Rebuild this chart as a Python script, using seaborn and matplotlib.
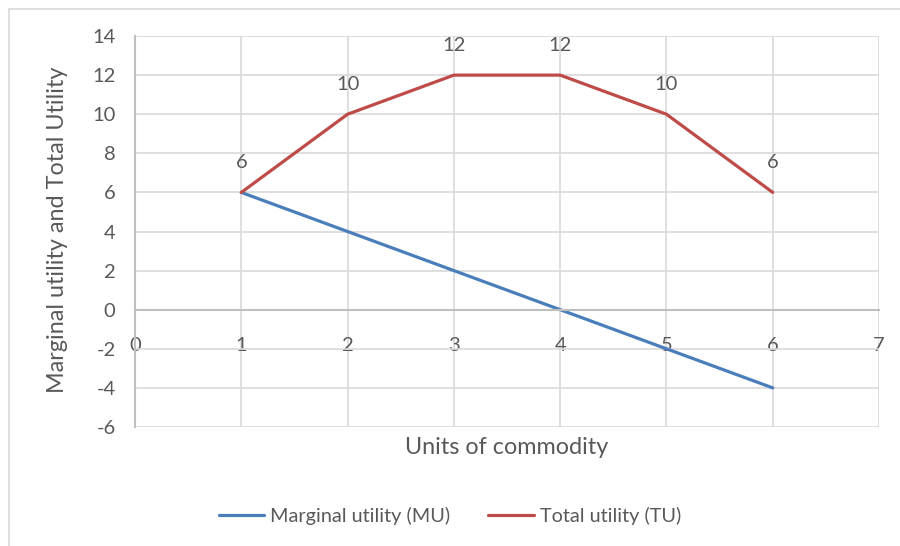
import numpy as np
import pandas as pd
import matplotlib.pyplot as plt
import seaborn as sns
from matplotlib.patches import Rectangle

# data
units = [1, 2, 3, 4, 5, 6]
mu = [6, 4, 2, 0, -2, -4]
tu = [6, 10, 12, 12, 10, 6]
series_names = ['Marginal utility (MU)', 'Total utility (TU)']
x_ticks = [0, 1, 2, 3, 4, 5, 6, 7]
y_ticks = [-6, -4, -2, 0, 2, 4, 6, 8, 10, 12, 14]

df = pd.DataFrame({
    'Units': units * 2,
    'Value': mu + tu,
    'Series': [series_names[0]] * len(units) + [series_names[1]] * len(units),
})

sns.set_style('white')
plt.rcParams['font.family'] = ['Lato', 'DejaVu Sans']
plt.rcParams['axes.unicode_minus'] = False
txt = '#595959'
colors = ['#4A7EBB', '#BE4B48']

fig = plt.figure(figsize=(9, 5.46), dpi=100)
ax = fig.add_axes([0.15, 0.218, 0.8267, 0.716])

sns.lineplot(data=df, x='Units', y='Value', hue='Series',
             palette=colors, linewidth=2.3, ax=ax, legend=False)

ax.set_xlim(0, 7)
ax.set_ylim(-6, 14)
ax.set_xticks(x_ticks)
ax.set_yticks(y_ticks)
ax.grid(True, color='#D9D9D9', linewidth=1.2)
ax.set_axisbelow(True)

for s in ['top', 'right']:
    ax.spines[s].set_visible(False)
ax.spines['bottom'].set_position(('data', 0))
ax.spines['bottom'].set_color('#BFBFBF')
ax.spines['bottom'].set_linewidth(1.5)
ax.spines['left'].set_color('#BFBFBF')
ax.spines['left'].set_linewidth(1.5)

ax.tick_params(axis='x', length=0, pad=20, labelsize=14.5, labelcolor=txt)
ax.tick_params(axis='y', length=0, pad=14, labelsize=14.5, labelcolor=txt)

ax.set_xlabel('Units of commodity', fontsize=16.8, color=txt)
ax.xaxis.set_label_coords(0.5, -0.025)
ax.set_ylabel('Marginal utility and Total Utility', fontsize=16.8, color=txt)
ax.yaxis.set_label_coords(-0.09, 0.504)

for x, v in zip(units, tu):
    ax.annotate(str(v), (x, v), xytext=(0, 21.5), textcoords='offset points',
                ha='center', va='center', fontsize=14.5, color=txt)

handles = [plt.Line2D([], [], color=c, linewidth=2.3) for c in colors]
fig.legend(handles, series_names, loc='center', bbox_to_anchor=(0.5, 0.055),
           ncol=2, frameon=False, fontsize=14.3, labelcolor=txt,
           handlelength=2.3, handletextpad=0.3, columnspacing=1.9)

fig.patches.append(Rectangle((9 / 900, -0.1), 1.2, 1 - 9 / 546 + 0.1,
                             transform=fig.transFigure, fill=False,
                             edgecolor='#D9D9D9', linewidth=1.2))

fig.savefig('out.png', dpi=100)
